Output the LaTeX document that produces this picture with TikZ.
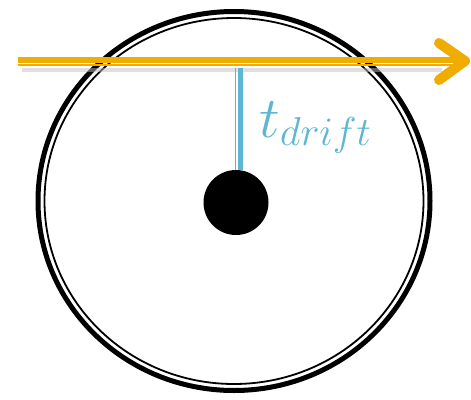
\documentclass[tikz,border=0pt]{standalone}
\usepackage{amsmath}
\usepackage{tikz}
\usetikzlibrary{positioning,calc}
\definecolor{gold}{HTML}{F0AC00}
\definecolor{sky}{HTML}{5DB6D2}

\begin{document}
\begin{tikzpicture}[x=1pt,y=-1pt,
    ring/.style={draw=black,line width=5pt},
    ringthin/.style={draw=black,line width=1.8pt},
    pole/.style={draw=sky,line width=5pt},
    polethin/.style={draw=sky,line width=1.6pt},
    beam/.style={draw=gold,line width=6pt},
    beamthin/.style={draw=gold,line width=2pt},
    beamhead/.style={draw=gold,line width=10pt,line cap=round,line join=round}]
        \useasboundingbox (0,0) rectangle (471,399);
        \coordinate (ctr) at (234,201);
        \draw[ring] (ctr) ellipse [x radius=196,y radius=189.5];
        \draw[ringthin] (ctr) ellipse [x radius=189.5,y radius=183];
        % shadow under the beam
        \coordinate (beamstart) at (18,60);
        \coordinate (beamend) at (462,60);
        \draw[black!25,line width=4pt,opacity=.5] ($(beamstart)+(4,10)$) -- ($(beamend)+(-20,10)$);
        \draw[beam] (beamstart) -- (beamend);
        \draw[beamthin] ($(beamstart)+(0,5)$) -- ($(beamend)+(-8,5)$);
        \coordinate (headtip) at (465,61);
        \draw[beamhead] ($(headtip)+(-26,-18)$) -- (headtip) -- ($(headtip)+(-26,19)$);
        % drift line down to the dot
        \coordinate (drifttop) at (238,68);
        \node[circle,fill=black,minimum size=65pt,inner sep=0pt] (dot) at (236,202.5) {};
        \draw[pole] ([xshift=2.5pt]drifttop) -- ([xshift=2.5pt]drifttop |- dot.north);
        \draw[polethin] ([xshift=-2.5pt]drifttop) -- ([xshift=-2.5pt]drifttop |- dot.north);
        \node[anchor=base west,text=sky,inner sep=0pt,font=\huge,scale=2.8,transform shape] (driftlabel) at (259,137) {$t_{drift}$};
      \end{tikzpicture}
\end{document}
